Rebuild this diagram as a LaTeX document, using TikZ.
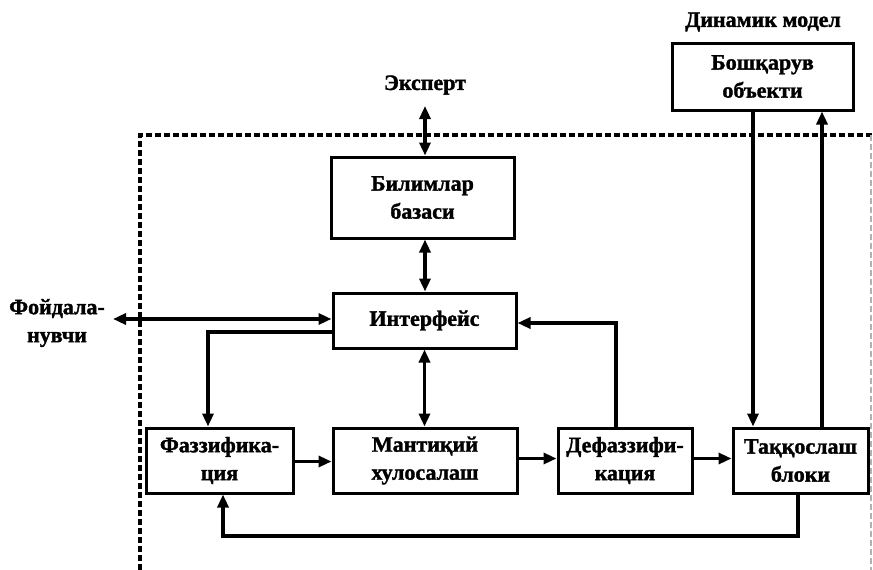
\documentclass[tikz,border=0pt]{standalone}
\usepackage{fontspec}
\setmainfont{Liberation Serif}[BoldFeatures={FakeBold=1.5}]
\usetikzlibrary{arrows.meta}

\tikzset{
  blk/.style={draw, line width=3pt, minimum height=#1, inner sep=0pt, align=center,
    font=\bfseries\fontsize{22}{28}\selectfont},
  lbl/.style={inner sep=0pt, align=center, font=\bfseries\fontsize{22}{28}\selectfont},
  wire/.style={draw, line width=3.2pt, line join=miter},
  conn/.style={wire, -{Triangle[length=13pt,width=11pt]}},
  conn2/.style={wire, {Triangle[length=13pt,width=11pt]}-{Triangle[length=13pt,width=11pt]}},
  boundary/.style={draw, line width=3.2pt, dash pattern=on 6pt off 3pt},
}

\begin{document}
\begin{tikzpicture}[x=1pt, y=-1pt]
  \useasboundingbox (0,0) rectangle (873,570);

  % boundary of the controller
  \path[boundary] (140,570) -- (140,135) -- (872,135);
  \path[boundary, black!30, line width=1.6pt] (871,135) -- (871,570);

  % labels outside the boxes
  \node[lbl] (dyn) at (763,22) {Динамик модел};
  \node[lbl] (expert) at (425,85) {Эксперт};
  \node[lbl] (user) at (57,323) {Фойдала-\\нувчи};

  % blocks
  \node[blk=67pt, minimum width=181pt] (obj) at (762.5,76.5) {Бошқарув\\объекти};
  \node[blk=81pt, minimum width=183pt] (kb) at (422.5,197.5) {Билимлар\\базаси};
  \node[blk=55pt, minimum width=183pt] (iface) at (424.5,320.5) {Интерфейс};
  \node[blk=65pt, minimum width=147pt] (fuzz) at (219.5,460.5) {Фаззифика-\\ция};
  \node[blk=65pt, minimum width=184pt] (infer) at (425,460.5) {Мантиқий\\хулосалаш};
  \node[blk=65pt, minimum width=134pt] (defuzz) at (625,460.5) {Дефаззифи-\\кация};
  \node[blk=65pt, minimum width=135pt] (cmp) at (800.5,460.5) {Таққослаш\\блоки};

  % expert and knowledge base
  \coordinate (e0) at (425,106);
  \path[conn2] (e0) -- (e0 |- kb.north);
  \path[conn2] ([xshift=2.5pt]kb.south) -- ([xshift=2.5pt]kb.south |- iface.north);

  % user and interface
  \coordinate (u0) at (113,319);
  \path[conn2] (u0) -- (u0 -| iface.west);
  \coordinate (f0) at (208,332);
  \path[conn] (f0 -| iface.west) -- (f0) -- (f0 |- fuzz.north);
  \path[conn2] (iface.south) -- (iface.south |- infer.north);
  \coordinate (d0) at (616,323);
  \path[conn] (d0 |- defuzz.north) -- (d0) -- (d0 -| iface.east);

  % main chain
  \path[conn] ([yshift=-1pt]fuzz.east) -- ([yshift=-1pt]fuzz.east -| infer.west);
  \path[conn] ([yshift=2pt]infer.east) -- ([yshift=2pt]infer.east -| defuzz.west);
  \path[conn] ([yshift=2pt]defuzz.east) -- ([yshift=2pt]defuzz.east -| cmp.west);

  % plant loop
  \coordinate (p0) at (753,0);
  \coordinate (p1) at (822,0);
  \path[conn] (p0 |- obj.south) -- (p0 |- cmp.north);
  \path[conn] (p1 |- cmp.north) -- (p1 |- obj.south);

  % feedback from comparison block
  \coordinate (b0) at (798,536);
  \coordinate (b1) at (223,536);
  \path[conn] (b0 |- cmp.south) -- (b0) -- (b1) -- (b1 |- fuzz.south);
\end{tikzpicture}
\end{document}
